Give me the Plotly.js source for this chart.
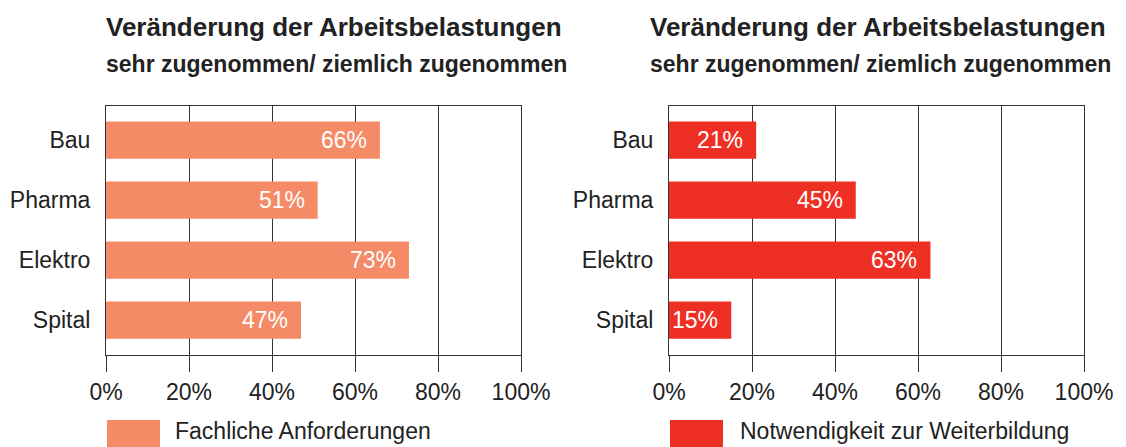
<!DOCTYPE html>
<html>
<head>
<meta charset="utf-8">
<script src="https://cdn.plot.ly/plotly-3.0.1.min.js"></script>
<style>
html,body{margin:0;padding:0;background:#fff;}
#chart{width:1126px;height:447px;}
</style>
</head>
<body>
<div id="chart"></div>
<script>
// ---- data ----
const categories = ['Bau', 'Pharma', 'Elektro', 'Spital'];
const fachlicheValues = [66, 51, 73, 47];
const weiterbildungValues = [21, 45, 63, 15];
const tickValues = [0, 20, 40, 60, 80, 100];
const tickLabels = ['0%', '20%', '40%', '60%', '80%', '100%'];
const titleText = 'Veränderung der Arbeitsbelastungen';
const subtitleText = 'sehr zugenommen/ ziemlich zugenommen';
const seriesNames = ['Fachliche Anforderungen', 'Notwendigkeit zur Weiterbildung'];

// ---- style ----
const W = 1126, H = 447;
const FONT = '"Liberation Sans", Arial, Helvetica, sans-serif';
const colors = ['#F48B66', '#EE3024'];
const ink = '#222222';
const lineCol = '#333333';
const px = v => v / W;
const py = v => 1 - v / H;

const leftDomain = [px(106), px(521)];
const rightDomain = [px(669), px(1084)];
const yDomain = [py(355), py(106)];

const traces = [
  {type: 'bar', orientation: 'h', x: fachlicheValues, y: categories, name: seriesNames[0],
   marker: {color: colors[0]}, width: 0.62, xaxis: 'x', yaxis: 'y', hoverinfo: 'skip'},
  {type: 'bar', orientation: 'h', x: weiterbildungValues, y: categories, name: seriesNames[1],
   marker: {color: colors[1]}, width: 0.62, xaxis: 'x2', yaxis: 'y2', hoverinfo: 'skip'}
];

function xAxis(domain, anchor) {
  return {
    domain: domain, anchor: anchor, range: [0, 100], fixedrange: true,
    tickmode: 'array', tickvals: tickValues, ticktext: tickLabels,
    showgrid: true, gridcolor: lineCol, gridwidth: 1,
    showline: true, mirror: true, linecolor: lineCol, linewidth: 1,
    ticks: 'outside', ticklen: 16, tickcolor: lineCol, tickwidth: 1,
    zeroline: false, ticklabelstandoff: 0,
    tickfont: {family: FONT, size: 23, color: ink}
  };
}
function yAxis(anchor) {
  return {
    domain: yDomain, anchor: anchor, type: 'category',
    categoryorder: 'array', categoryarray: categories,
    range: [3.58, -0.57], fixedrange: true,
    showgrid: false, zeroline: false,
    showline: true, mirror: true, linecolor: lineCol, linewidth: 1,
    ticks: '', ticklabelstandoff: 10,
    tickfont: {family: FONT, size: 23, color: ink}
  };
}

const annotations = [];
function addBarLabels(values, xr, yr) {
  values.forEach((v, i) => {
    annotations.push({
      x: v, y: categories[i], xref: xr, yref: yr, text: v + '%',
      xanchor: 'right', yanchor: 'middle', xshift: -11, showarrow: false,
      font: {family: FONT, size: 23, color: '#ffffff'}
    });
  });
}
addBarLabels(fachlicheValues, 'x', 'y');
addBarLabels(weiterbildungValues, 'x2', 'y2');

const titleLeftX = [px(104), px(648)];
titleLeftX.forEach(x0 => {
  annotations.push({x: x0, y: py(27), xref: 'paper', yref: 'paper', xanchor: 'left', yanchor: 'middle',
    text: '<b>' + titleText + '</b>', showarrow: false, font: {family: FONT, size: 26, color: ink}});
  annotations.push({x: x0, y: py(64), xref: 'paper', yref: 'paper', xanchor: 'left', yanchor: 'middle',
    text: '<b>' + subtitleText + '</b>', showarrow: false, font: {family: FONT, size: 23, color: ink}});
});

// legend (swatch + label)
const legendSwatchX = [[107, 160], [670, 723]];
const legendTextX = [173, 738];
const shapes = [];
seriesNames.forEach((name, k) => {
  shapes.push({type: 'rect', xref: 'paper', yref: 'paper',
    x0: px(legendSwatchX[k][0]), x1: px(legendSwatchX[k][1]), y0: py(447), y1: py(420),
    fillcolor: colors[k], line: {width: 0}});
  annotations.push({x: px(legendTextX[k]), y: py(431), xref: 'paper', yref: 'paper',
    xanchor: 'left', yanchor: 'middle', text: name, showarrow: false,
    font: {family: FONT, size: 23, color: ink}});
});

const layout = {
  width: W, height: H,
  margin: {l: 0, r: 0, t: 0, b: 0},
  paper_bgcolor: '#ffffff', plot_bgcolor: '#ffffff',
  showlegend: false, barmode: 'overlay',
  xaxis: xAxis(leftDomain, 'y'),
  yaxis: yAxis('x'),
  xaxis2: xAxis(rightDomain, 'y2'),
  yaxis2: yAxis('x2'),
  annotations: annotations,
  shapes: shapes,
  font: {family: FONT, color: ink}
};

Plotly.newPlot('chart', traces, layout, {staticPlot: true, displayModeBar: false});
</script>
</body>
</html>
